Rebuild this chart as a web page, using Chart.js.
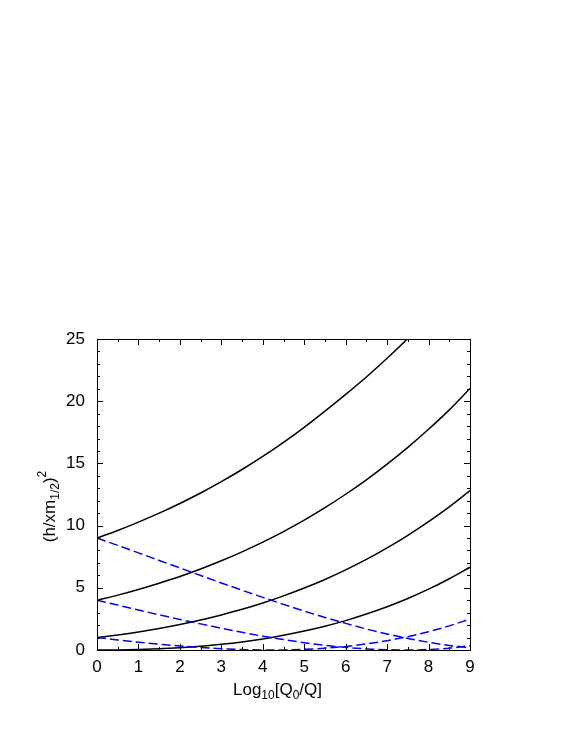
<!DOCTYPE html>
<html>
<head>
<meta charset="utf-8">
<script src="https://cdn.jsdelivr.net/npm/chart.js@4.4.0/dist/chart.umd.min.js"></script>
<style>
  html, body { margin: 0; padding: 0; background: #ffffff; }
  #c { display: block; }
</style>
</head>
<body>
<canvas id="c" width="568" height="734"></canvas>
<script>
// ---- data ----
const logQ = [0, 0.5, 1, 1.5, 2, 2.5, 3, 3.5, 4, 4.5, 5, 5.5, 6, 6.5, 7, 7.5, 8, 8.5, 9];

// solid black curves
const solidFrom9 = [9, 9.61, 10.28, 11.00, 11.78, 12.62, 13.53, 14.51, 15.56, 16.69, 17.90, 19.20, 20.55, 21.95, 23.45, 25.05, 26.85, 28.8, 30.9];
const solidFrom4 = [4, 4.41, 4.87, 5.37, 5.91, 6.51, 7.17, 7.89, 8.67, 9.52, 10.44, 11.44, 12.52, 13.68, 14.94, 16.29, 17.74, 19.30, 21.02];
const solidFrom1 = [1, 1.21, 1.45, 1.73, 2.05, 2.41, 2.82, 3.27, 3.78, 4.35, 4.98, 5.67, 6.44, 7.28, 8.21, 9.22, 10.32, 11.51, 12.81];
const solidFrom0 = [0, 0.01, 0.04, 0.10, 0.19, 0.31, 0.46, 0.65, 0.89, 1.18, 1.52, 1.91, 2.36, 2.89, 3.48, 4.14, 4.89, 5.73, 6.65];

// dashed blue curves
const dashedFrom9 = [9, 8.41, 7.81, 7.20, 6.60, 5.99, 5.39, 4.80, 4.23, 3.67, 3.13, 2.62, 2.14, 1.69, 1.29, 0.93, 0.62, 0.37, 0.18];
const dashedFrom4 = [4, 3.61, 3.22, 2.83, 2.46, 2.10, 1.75, 1.42, 1.11, 0.84, 0.59, 0.38, 0.21, 0.09, 0.02, 0.00, 0.04, 0.15, 0.34];
const dashedFrom1 = [1, 0.81, 0.63, 0.47, 0.32, 0.20, 0.10, 0.04, 0.00, 0.01, 0.05, 0.15, 0.29, 0.49, 0.75, 1.07, 1.47, 1.94, 2.49];

const xMin = 0, xMax = 9, xMajorStep = 1, xMinorStep = 0.5;
const yMin = 0, yMax = 25, yMajorStep = 5, yMinorStep = 1;

const FONT = "'Liberation Sans', Arial, Helvetica, sans-serif";

function toPts(ys) { return ys.map((y, i) => ({ x: logQ[i], y: y })); }

function solid(ys) {
  return { data: toPts(ys), borderColor: '#000000', borderWidth: 1.5, pointRadius: 0,
           cubicInterpolationMode: 'monotone', fill: false };
}
function dashed(ys) {
  return { data: toPts(ys), borderColor: '#0000ff', borderWidth: 1.5, borderDash: [9, 4],
           pointRadius: 0, cubicInterpolationMode: 'monotone', fill: false };
}

const framePlugin = {
  id: 'frame',
  afterDraw(chart) {
    const ctx = chart.ctx;
    const a = chart.chartArea;
    const xs = chart.scales.x, ys = chart.scales.y;
    ctx.save();
    ctx.strokeStyle = '#000000';
    ctx.lineWidth = 1;
    // ticks (inside, mirrored)
    ctx.beginPath();
    for (let v = xMin; v <= xMax + 1e-9; v += xMinorStep) {
      const major = Math.abs(v - Math.round(v / xMajorStep) * xMajorStep) < 1e-9;
      const len = major ? 6 : 3;
      const px = Math.round(xs.getPixelForValue(v)) + 0.5;
      ctx.moveTo(px, a.bottom); ctx.lineTo(px, a.bottom - len);
      ctx.moveTo(px, a.top); ctx.lineTo(px, a.top + len);
    }
    for (let v = yMin; v <= yMax + 1e-9; v += yMinorStep) {
      const major = Math.abs(v - Math.round(v / yMajorStep) * yMajorStep) < 1e-9;
      const len = major ? 6 : 3;
      const py = Math.round(ys.getPixelForValue(v)) + 0.5;
      ctx.moveTo(a.left, py); ctx.lineTo(a.left + len, py);
      ctx.moveTo(a.right, py); ctx.lineTo(a.right - len, py);
    }
    ctx.stroke();
    // border
    ctx.strokeRect(Math.round(a.left) + 0.5, Math.round(a.top) + 0.5,
                   Math.round(a.right - a.left), Math.round(a.bottom - a.top));

    ctx.fillStyle = '#000000';
    ctx.textBaseline = 'alphabetic';
    ctx.textAlign = 'left';

    // x axis title: Log10[Q0/Q]
    const big = '17px ' + FONT, small = '12px ' + FONT;
    const xParts = [['Log', big, 0], ['10', small, 4], ['[Q', big, 0], ['0', small, 4], ['/Q]', big, 0]];
    let w = 0;
    xParts.forEach(p => { ctx.font = p[1]; w += ctx.measureText(p[0]).width; });
    let x0 = (a.left + a.right) / 2 - w / 2 - 6;
    const base = a.bottom + 45;
    xParts.forEach(p => { ctx.font = p[1]; ctx.fillText(p[0], x0, base + p[2]); x0 += ctx.measureText(p[0]).width; });

    // y axis title: (h/xm_{1/2})^2
    const yParts = [['(h/xm', big, 0], ['1/2', small, 4], [')', big, 0], ['2', small, -9]];
    ctx.save();
    ctx.translate(55, (a.top + a.bottom) / 2);
    ctx.rotate(-Math.PI / 2);
    w = 0;
    yParts.forEach(p => { ctx.font = p[1]; w += ctx.measureText(p[0]).width; });
    let yx = -w / 2 - 12;
    yParts.forEach(p => { ctx.font = p[1]; ctx.fillText(p[0], yx, p[2]); yx += ctx.measureText(p[0]).width; });
    ctx.restore();
    ctx.restore();
  }
};

new Chart(document.getElementById('c'), {
  type: 'line',
  data: {
    datasets: [
      dashed(dashedFrom9), dashed(dashedFrom4), dashed(dashedFrom1),
      solid(solidFrom9), solid(solidFrom4), solid(solidFrom1), solid(solidFrom0)
    ]
  },
  options: {
    responsive: false,
    animation: false,
    devicePixelRatio: 1,
    layout: { padding: { left: 0, top: 339, right: 98, bottom: 0 } },
    plugins: { legend: { display: false }, tooltip: { enabled: false } },
    scales: {
      x: {
        type: 'linear', min: xMin, max: xMax,
        border: { display: false },
        grid: { display: false, drawTicks: false },
        ticks: { stepSize: xMajorStep, padding: 7, color: '#000000', maxRotation: 0,
                 font: { family: FONT, size: 17 } },
        afterFit(s) { s.height = 84; }
      },
      y: {
        type: 'linear', min: yMin, max: yMax,
        border: { display: false },
        grid: { display: false, drawTicks: false },
        ticks: { stepSize: yMajorStep, padding: 12, color: '#000000',
                 font: { family: FONT, size: 17 } },
        afterFit(s) { s.width = 97; }
      }
    }
  },
  plugins: [framePlugin]
});
</script>
</body>
</html>
